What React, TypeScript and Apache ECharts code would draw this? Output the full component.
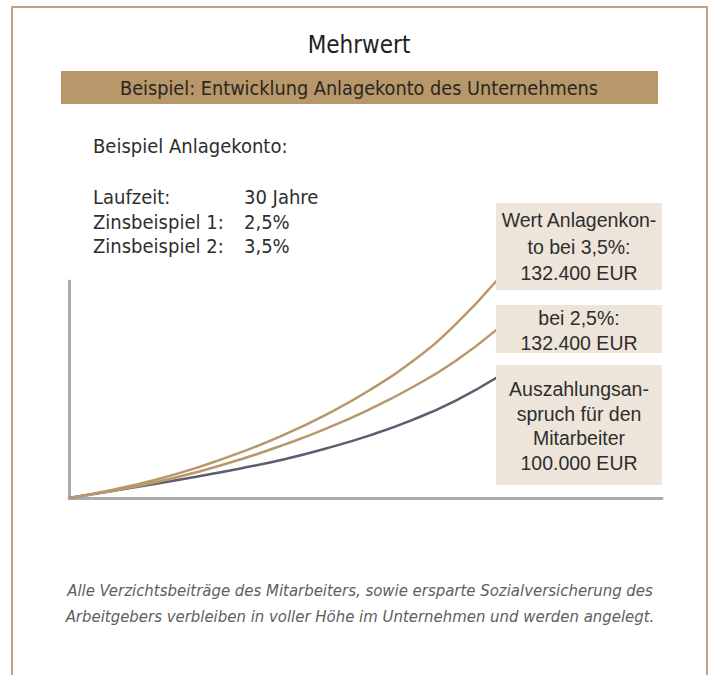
import React, { useEffect, useRef } from "react";
import * as echarts from "echarts";

const years = [0, 3, 6, 9, 12, 15, 18, 21, 24, 27, 30];
const wert35 = [0, 4.8, 10.8, 18.3, 27.3, 37.7, 50.0, 64.4, 81.6, 103.6, 130.9];
const wert25 = [0, 4.2, 9.3, 15.6, 23.1, 31.8, 41.6, 53.0, 66.2, 81.8, 101.3];
const auszahlung = [0, 4.2, 8.4, 12.9, 17.7, 23.1, 29.7, 37.4, 46.7, 58.1, 72.5];

const title = "Mehrwert";
const subtitle = "Beispiel: Entwicklung Anlagekonto des Unternehmens";
const infoHeading = "Beispiel Anlagekonto:";
const infoLabels = ["Laufzeit:", "Zinsbeispiel 1:", "Zinsbeispiel 2:"];
const infoValues = ["30 Jahre", "2,5%", "3,5%"];
const box1 = ["Wert Anlagenkon-", "to bei 3,5%:", "132.400 EUR"];
const box2 = ["bei 2,5%:", "132.400 EUR"];
const box3 = ["Auszahlungsan-", "spruch für den", "Mitarbeiter", "100.000 EUR"];
const footer = [
  "Alle Verzichtsbeiträge des Mitarbeiters, sowie ersparte Sozialversicherung des",
  "Arbeitgebers verbleiben in voller Höhe im Unternehmen und werden angelegt.",
];

const GOLD = "#b8976a";
const DARK = "#5d5c70";
const BOXFILL = "#ede5d9";
const TEXT = "#2e2e2e";
const NARROW = "'Liberation Sans Narrow', 'DejaVu Sans Condensed', 'Liberation Sans', sans-serif";
const SANS = "'Liberation Sans', Arial, sans-serif";

export default function App() {
  const ref = useRef<HTMLDivElement>(null);
  useEffect(() => {
    document.body.style.margin = "0";
    const chart = echarts.init(ref.current!, null, { renderer: "svg" });
    const pairs = (vals: number[]) => years.map((y, i) => [y, vals[i]]);
    const boxText = (lines: string[], x: number, y: number, lh: number) => ({
      type: "text",
      x,
      y,
      style: {
        text: lines.join("\n"),
        align: "center",
        verticalAlign: "middle",
        fontSize: 19.5,
        lineHeight: lh,
        fontFamily: SANS,
        fill: TEXT,
      },
      z: 10,
    });
    const lineSeries = (vals: number[], color: string) => ({
      type: "line",
      data: pairs(vals),
      smooth: 0.5,
      showSymbol: false,
      clip: false,
      lineStyle: { color, width: 2.5 },
      z: 3,
    });
    chart.setOption({
      animation: false,
      backgroundColor: "#ffffff",
      grid: { left: 69, top: 281, right: 51, bottom: 177 },
      xAxis: {
        type: "value",
        min: 0,
        max: 41.5,
        axisLine: { show: true, lineStyle: { color: "#aaaab4", width: 3 } },
        axisTick: { show: false },
        axisLabel: { show: false },
        splitLine: { show: false },
      },
      yAxis: {
        type: "value",
        min: 0,
        max: 130,
        axisLine: { show: true, lineStyle: { color: "#aaaab4", width: 3 } },
        axisTick: { show: false },
        axisLabel: { show: false },
        splitLine: { show: false },
      },
      series: [lineSeries(auszahlung, DARK), lineSeries(wert25, GOLD), lineSeries(wert35, GOLD)],
      graphic: [
        {
          type: "rect",
          shape: { x: 12, y: 7, width: 695, height: 720 },
          style: { fill: "none", stroke: "#c2a47c", lineWidth: 2 },
          silent: true,
        },
        {
          type: "text",
          x: 359,
          y: 45,
          style: { text: title, align: "center", verticalAlign: "middle", fontSize: 24, fontFamily: NARROW, fill: "#222222" },
        },
        {
          type: "rect",
          shape: { x: 61, y: 71, width: 597, height: 33 },
          style: { fill: GOLD },
        },
        {
          type: "text",
          x: 359,
          y: 88,
          style: { text: subtitle, align: "center", verticalAlign: "middle", fontSize: 19.7, fontFamily: NARROW, fill: "#2a2620" },
        },
        {
          type: "text",
          x: 93,
          y: 146,
          style: { text: infoHeading, align: "left", verticalAlign: "middle", fontSize: 20, fontFamily: NARROW, fill: TEXT },
        },
        ...infoLabels.map((t, i) => ({
          type: "text",
          x: 93,
          y: 197 + i * 24.5,
          style: { text: t, align: "left", verticalAlign: "middle", fontSize: 20, fontFamily: NARROW, fill: TEXT },
        })),
        ...infoValues.map((t, i) => ({
          type: "text",
          x: 244,
          y: 197 + i * 24.5,
          style: { text: t, align: "left", verticalAlign: "middle", fontSize: 20, fontFamily: NARROW, fill: TEXT },
        })),
        { type: "rect", shape: { x: 496, y: 203, width: 166, height: 87 }, style: { fill: BOXFILL }, z: 5 },
        { type: "rect", shape: { x: 496, y: 305, width: 166, height: 48 }, style: { fill: BOXFILL }, z: 5 },
        { type: "rect", shape: { x: 496, y: 365, width: 166, height: 120 }, style: { fill: BOXFILL }, z: 5 },
        boxText(box1, 579, 246.5, 26.5),
        boxText(box2, 579, 330.5, 25),
        boxText(box3, 579, 426, 24.7),
        ...footer.map((t, i) => ({
          type: "text",
          x: 360,
          y: 590 + i * 26,
          style: { text: t, align: "center", verticalAlign: "middle", fontSize: 16.6, fontStyle: "italic", fontFamily: NARROW, fill: "#5e5e5e" },
        })),
      ],
    });
    return () => chart.dispose();
  }, []);
  return <div ref={ref} style={{ width: 713, height: 675 }} />;
}
